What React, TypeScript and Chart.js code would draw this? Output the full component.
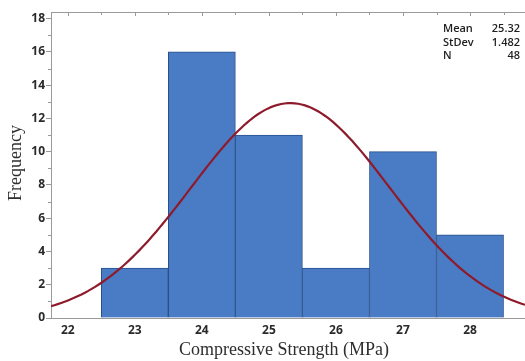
import React, { useEffect, useRef } from "react";
import { Chart, registerables } from "chart.js";

Chart.register(...registerables);

const binCenters = [23, 24, 25, 26, 27, 28];
const frequencies = [3, 16, 11, 3, 10, 5];
const MEAN = 25.32;
const STDEV = 1.482;
const N = 48;
const BIN_WIDTH = 1;
const X_MIN = 21.75;
const X_MAX = 28.82;
const Y_MAX = 18.4;
const statLabels = ["Mean", "StDev", "N"];
const statValues = ["25.32", "1.482", "48"];

// Fitted normal curve sampled along the x-axis range (derived from MEAN / STDEV / N)
const curveXs: number[] = [];
for (let i = 0; i <= 140; i++) curveXs.push(X_MIN + ((X_MAX - X_MIN) * i) / 140);
const curvePoints = curveXs.map((x) => ({
  x,
  y:
    ((N * BIN_WIDTH) / (STDEV * Math.sqrt(2 * Math.PI))) *
    Math.exp(-0.5 * ((x - MEAN) / STDEV) ** 2),
}));

const decorPlugin = {
  id: "decor",
  afterDraw(chart: any) {
    const { ctx, chartArea } = chart;
    const xs = chart.scales.x;
    const ys = chart.scales.y;
    ctx.save();
    ctx.strokeStyle = "#9a9a9a";
    ctx.lineWidth = 1;
    // top frame line
    ctx.beginPath();
    ctx.moveTo(chartArea.left, chartArea.top + 0.5);
    ctx.lineTo(chartArea.right, chartArea.top + 0.5);
    ctx.stroke();
    // top ticks (inward)
    for (let v = 22; v <= X_MAX; v += 0.5) {
      const px = Math.round(xs.getPixelForValue(v)) + 0.5;
      ctx.beginPath();
      ctx.moveTo(px, chartArea.top);
      ctx.lineTo(px, chartArea.top + (Number.isInteger(v) ? 4 : 3));
      ctx.stroke();
    }
    // y minor ticks
    for (let v = 1; v < Y_MAX; v += 2) {
      const py = Math.round(ys.getPixelForValue(v)) + 0.5;
      ctx.beginPath();
      ctx.moveTo(chartArea.left - 3, py);
      ctx.lineTo(chartArea.left, py);
      ctx.stroke();
    }
    // stats box
    ctx.fillStyle = "#1e1e1e";
    ctx.font = "600 11px 'Open Sans', 'DejaVu Sans', sans-serif";
    ctx.textBaseline = "middle";
    statLabels.forEach((l, i) => {
      const y = 29 + i * 13.5;
      ctx.textAlign = "left";
      ctx.fillText(l, 443, y);
      ctx.textAlign = "right";
      ctx.fillText(statValues[i], 520, y);
    });
    // axis titles
    ctx.fillStyle = "#2e2e2e";
    ctx.font = "18px 'Liberation Serif', 'DejaVu Serif', serif";
    ctx.textAlign = "center";
    ctx.textBaseline = "middle";
    ctx.fillText("Compressive Strength (MPa)", 284, 350);
    ctx.save();
    ctx.translate(16, 163);
    ctx.rotate(-Math.PI / 2);
    ctx.fillText("Frequency", 0, 0);
    ctx.restore();
    ctx.restore();
  },
};

export default function App() {
  const ref = useRef<HTMLCanvasElement>(null);
  useEffect(() => {
    if (!ref.current) return;
    const chart = new Chart(ref.current, {
      type: "bar",
      data: {
        datasets: [
          {
            type: "line",
            data: curvePoints,
            borderColor: "#8e1b2b",
            borderWidth: 2.2,
            pointRadius: 0,
            tension: 0,
            fill: false,
            order: 0,
          } as any,
          {
            type: "bar",
            data: binCenters.map((c, i) => ({ x: c, y: frequencies[i] })),
            backgroundColor: "#4a7cc6",
            borderColor: "#27508c",
            borderWidth: 1,
            barPercentage: 1,
            categoryPercentage: 1,
            order: 1,
          } as any,
        ],
      },
      options: {
        animation: false,
        responsive: false,
        maintainAspectRatio: false,
        events: [],
        layout: { padding: { top: 12, right: 0, left: 0, bottom: 0 } },
        plugins: { legend: { display: false }, tooltip: { enabled: false } },
        scales: {
          x: {
            type: "linear",
            min: X_MIN,
            max: X_MAX,
            offset: false,
            grid: { display: false, drawTicks: false },
            border: { display: true, color: "#9a9a9a", width: 1 },
            ticks: {
              stepSize: 1,
              includeBounds: false,
              padding: 5,
              color: "#2a2a2a",
              font: { family: "'Open Sans', 'DejaVu Sans', sans-serif", size: 12, weight: "bold" },
            },
            afterFit: (s: any) => {
              s.height = 43;
            },
          },
          y: {
            min: 0,
            max: Y_MAX,
            grace: 0,
            grid: {
              display: true,
              drawOnChartArea: false,
              drawTicks: true,
              tickLength: 5,
              color: "#9a9a9a",
            },
            border: { display: true, color: "#9a9a9a", width: 1 },
            ticks: {
              stepSize: 2,
              includeBounds: false,
              padding: 1,
              color: "#2a2a2a",
              font: { family: "'Open Sans', 'DejaVu Sans', sans-serif", size: 12, weight: "bold" },
            },
            afterFit: (s: any) => {
              s.width = 51;
            },
          },
        },
      } as any,
      plugins: [decorPlugin],
    });
    return () => chart.destroy();
  }, []);
  return (
    <div style={{ position: "fixed", left: 0, top: 0, width: 525, height: 361, background: "#fff" }}>
      <canvas ref={ref} width={525} height={361} style={{ display: "block" }} />
    </div>
  );
}
